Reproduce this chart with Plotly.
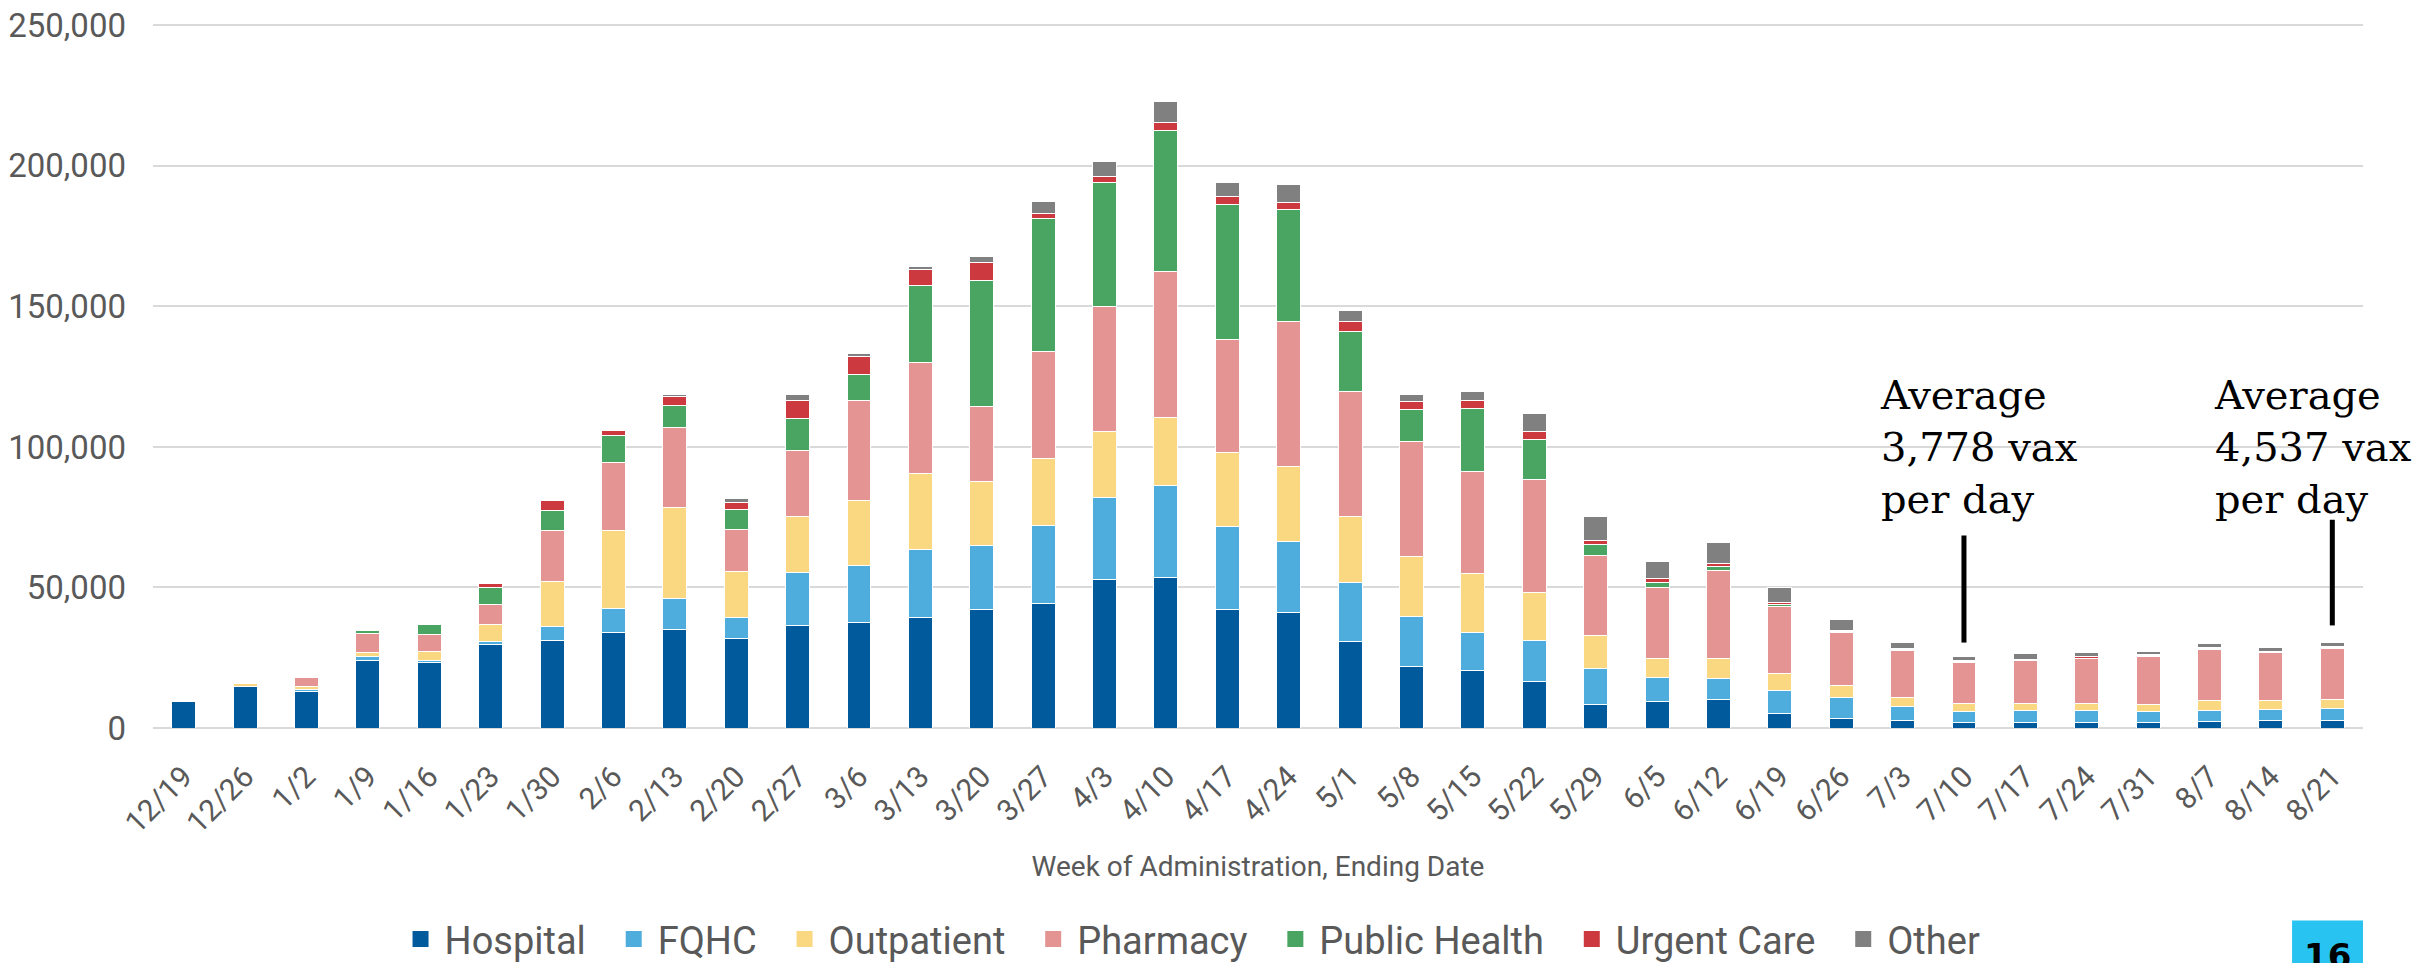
import plotly.graph_objects as go

weeks = ["12/19", "12/26", "1/2", "1/9", "1/16", "1/23", "1/30", "2/6", "2/13", "2/20",
         "2/27", "3/6", "3/13", "3/20", "3/27", "4/3", "4/10", "4/17", "4/24", "5/1",
         "5/8", "5/15", "5/22", "5/29", "6/5", "6/12", "6/19", "6/26", "7/3", "7/10",
         "7/17", "7/24", "7/31", "8/7", "8/14", "8/21"]

hospital = [9500, 14700, 12900, 23900, 23200, 29600, 31000, 34000, 35000, 32000,
            36500, 37500, 39300, 42300, 44400, 52900, 53600, 42100, 41200, 30800,
            21900, 20400, 16600, 8500, 9600, 10300, 5300, 3400, 2700, 2100,
            1900, 2100, 1900, 2400, 2500, 2600]
fqhc = [0, 0, 700, 1400, 700, 1200, 5000, 8700, 11200, 7300,
        18900, 20400, 24100, 22700, 27600, 29200, 32600, 29600, 25000, 20900,
        17700, 13600, 14700, 12600, 8300, 7400, 8000, 7500, 5000, 3900,
        4400, 4100, 4000, 3900, 4100, 4300]
outpatient = [100, 1000, 1000, 1400, 3500, 6200, 16300, 27400, 32200, 16300,
              20000, 23200, 27100, 22800, 23900, 23400, 24400, 26200, 26900, 23700,
              21600, 20900, 16800, 11700, 6700, 6900, 6000, 4100, 3200, 2600,
              2400, 2400, 2500, 3600, 3300, 3200]
pharmacy = [0, 200, 3500, 6900, 5700, 7100, 18100, 24200, 28500, 15000,
            23200, 35600, 39500, 26600, 37900, 44400, 51700, 40400, 51500, 44300,
            40900, 36300, 40200, 28700, 25300, 31500, 23900, 19000, 16800, 14700,
            15300, 16100, 17100, 18100, 16900, 18200]
public_health = [0, 100, 400, 1000, 3700, 6000, 6900, 9700, 8000, 7100,
                 11500, 9200, 27400, 44800, 47400, 44100, 50400, 48000, 39800, 21400,
                 11200, 22500, 14500, 3700, 1800, 1200, 700, 400, 350, 300,
                 200, 200, 200, 200, 250, 200]
urgent_care = [0, 0, 0, 100, 200, 1200, 3500, 1900, 3000, 2700,
               6500, 6200, 5800, 6500, 1900, 2100, 2800, 3000, 2500, 3400,
               3000, 2700, 2700, 1600, 1600, 1200, 700, 400, 250, 300,
               350, 500, 350, 350, 250, 350]
other = [300, 200, 200, 200, 200, 300, 350, 200, 700, 1400,
         1900, 1100, 1100, 2100, 4400, 5300, 7600, 4800, 6500, 4100,
         2300, 3500, 6400, 8300, 5800, 7600, 5300, 3700, 2000, 1400,
         1800, 1500, 1300, 1500, 1500, 1700]

series = [
    ("Hospital", hospital, "#005A9C"),
    ("FQHC", fqhc, "#4FADDE"),
    ("Outpatient", outpatient, "#FAD882"),
    ("Pharmacy", pharmacy, "#E59494"),
    ("Public Health", public_health, "#4BA562"),
    ("Urgent Care", urgent_care, "#CC3A40"),
    ("Other", other, "#808080"),
]

GREY = "#595959"
fig = go.Figure()
for name, vals, color in series:
    fig.add_trace(go.Bar(x=weeks, y=vals, name=name, showlegend=False,
                         marker=dict(color=color, line=dict(color="white", width=1))))
# bigger square swatches for the legend (nbsp padding widens the gaps)
for name, vals, color in series:
    fig.add_trace(go.Scatter(x=[None], y=[None], mode="markers", name=name + "\u00a0\u00a0",
                             marker=dict(symbol="square", size=21, color=color)))

# callouts for the summer averages
callouts = [("7/10", "Average<br>3,778 vax<br>per day", -86, 68500, 30400),
            ("8/21", "Average<br>4,537 vax<br>per day", -120, 74100, 36500)]
for wk, txt, shift, y_top, y_bot in callouts:
    fig.add_annotation(x=wk, y=127400, xref="x", yref="y", text=txt, showarrow=False,
                       xanchor="left", yanchor="top", xshift=shift, align="left",
                       font=dict(family="DejaVu Serif", size=40, color="black"))
    fig.add_shape(type="line", xref="x", yref="y", x0=wk, x1=wk, y0=y_bot, y1=y_top,
                  line=dict(color="black", width=5))

# page number badge
fig.add_shape(type="rect", xref="paper", yref="paper", x0=0.9679, x1=1.0, y0=-0.36, y1=-0.2736,
              fillcolor="#29C3F2", line=dict(width=0), layer="above")
fig.add_annotation(x=0.984, y=-0.293, xref="paper", yref="paper", text="<b>16</b>",
                   showarrow=False, xanchor="center", yanchor="top",
                   font=dict(family="DejaVu Sans", size=34, color="black"))

fig.update_layout(
    barmode="stack",
    bargap=0.61,
    width=2414, height=955,
    margin=dict(l=145, r=59, t=15.6, b=234.5, autoexpand=False),
    plot_bgcolor="white", paper_bgcolor="white",
    font=dict(family="Roboto", color=GREY, size=30),
    legend=dict(orientation="h", x=0.474, xanchor="center", y=-0.300, yanchor="middle",
                font=dict(size=38, color=GREY), traceorder="normal", itemclick=False,
                itemsizing="trace", itemwidth=38),
    xaxis=dict(type="category", range=[-0.5, len(weeks) - 0.5], tickangle=-45,
               tickfont=dict(size=30, color=GREY), showgrid=False,
               showline=False, ticks="", ticklabelstandoff=24,
               title=dict(text="Week of Administration, Ending Date",
                          font=dict(size=28, color=GREY), standoff=17)),
    yaxis=dict(range=[0, 250500], tickvals=[0, 50000, 100000, 150000, 200000, 250000],
               tickformat=",", tickfont=dict(size=33, color=GREY), showgrid=True,
               gridcolor="#D9D9D9", gridwidth=2, zeroline=True, zerolinecolor="#D9D9D9",
               zerolinewidth=2, ticklabelstandoff=26, ticklabeloverflow="allow"),
)

fig.write_html("out.html")
